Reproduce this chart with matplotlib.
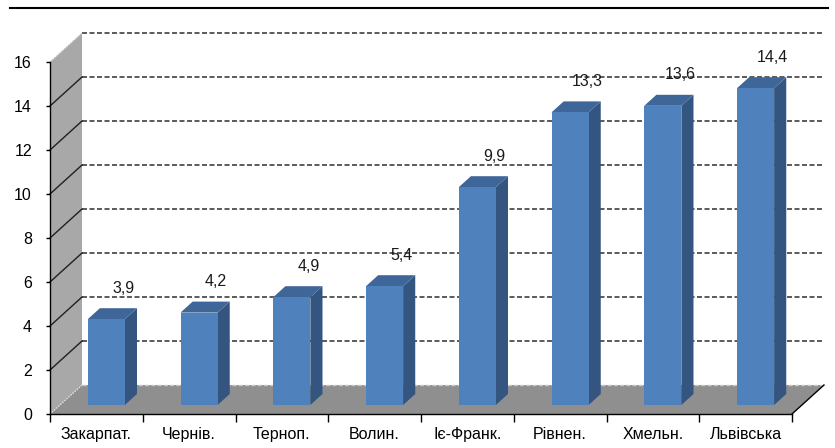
import matplotlib
matplotlib.use("Agg")
import matplotlib.pyplot as plt
from matplotlib.patches import Polygon
from matplotlib.lines import Line2D

plt.rcParams['font.family'] = ['Liberation Sans', 'DejaVu Sans']

categories = ["Закарпат.", "Чернів.", "Терноп.", "Волин.", "Іє-Франк.", "Рівнен.", "Хмельн.", "Львівська"]
values = [3.9, 4.2, 4.9, 5.4, 9.9, 13.3, 13.6, 14.4]
labels = ["3,9", "4,2", "4,9", "5,4", "9,9", "13,3", "13,6", "14,4"]
yticks = [0, 2, 4, 6, 8, 10, 12, 14, 16]

W, H = 835, 448
fig = plt.figure(figsize=(W / 100, H / 100), dpi=100)
fig.patch.set_facecolor("white")

# front plane of the 3-D box (pixels)
fx0, fx1, fy0, fy1 = 50, 792, 414, 62
ax = fig.add_axes([fx0 / W, (H - fy0) / H, (fx1 - fx0) / W, (fy0 - fy1) / H])
n = len(categories)
ymax = 16
ax.set_xlim(0, n)
ax.set_ylim(0, ymax)
ax.set_facecolor("none")

pxx = (fx1 - fx0) / n          # pixels per x unit
pxy = (fy0 - fy1) / ymax       # pixels per y unit
DX, DY = 32, 29                # full depth in pixels
ddx, ddy = DX / pxx, DY / pxy


def P(x, y, d):
    return (x + d * ddx, y + d * ddy)


# left side wall
ax.add_patch(Polygon([P(0, 0, 0), P(0, ymax, 0), P(0, ymax, 1), P(0, 0, 1)],
                     closed=True, facecolor="#a8a8a8", edgecolor="none", zorder=1, clip_on=False))
# floor
ax.add_patch(Polygon([P(0, 0, 0), P(n, 0, 0), P(n, 0, 1), P(0, 0, 1)],
                     closed=True, facecolor="#8f8f8f", edgecolor="none", zorder=1, clip_on=False))

# gridlines on back wall and side wall
for v in yticks:
    a, b = P(0, v, 1), P(n, v, 1)
    s = P(0, v, 0)
    if v == 0:
        ax.add_line(Line2D([a[0], b[0]], [a[1], b[1]], color="#c8c8c8", lw=1.0,
                           dashes=(3, 1.5), zorder=1.5, clip_on=False))
        ax.add_line(Line2D([s[0], a[0]], [s[1], a[1]], color="#e0e0e0", lw=1.0,
                           dashes=(1, 1), zorder=1.5, clip_on=False))
    elif v == ymax:
        ax.add_line(Line2D([a[0], b[0]], [a[1], b[1]], color="#404040", lw=1.2,
                           dashes=(3, 1.5), zorder=1.5, clip_on=False))
        ax.add_line(Line2D([s[0], a[0]], [s[1], a[1]], color="#d0d0d0", lw=1.0,
                           dashes=(1, 1), zorder=1.5, clip_on=False))
    else:
        ax.add_line(Line2D([a[0], b[0]], [a[1], b[1]], color="#404040", lw=1.2,
                           dashes=(3, 1.5), zorder=1.5, clip_on=False))
        ax.add_line(Line2D([s[0], a[0]], [s[1], a[1]], color="#202020", lw=1.0,
                           zorder=1.5, clip_on=False))

# right edge of floor
r0, r1 = P(n, 0, 0), P(n, 0, 1)
ax.add_line(Line2D([r0[0], r1[0]], [r0[1], r1[1]], color="black", lw=1.0, zorder=3, clip_on=False))

# bars
d0 = 9 / DY
d1 = d0 + 11 / DY
hw = 0.2
front_c, side_c, top_c = "#4f81bd", "#33557f", "#3e6699"
for i, v in enumerate(values):
    c = i + 0.5
    x0, x1 = c - hw, c + hw
    z = 2 + i * 0.01
    ax.add_patch(Polygon([P(x1, 0, d0), P(x1, 0, d1), P(x1, v, d1), P(x1, v, d0)],
                         closed=True, facecolor=side_c, edgecolor="none", zorder=z, clip_on=False))
    ax.add_patch(Polygon([P(x0, v, d0), P(x1, v, d0), P(x1, v, d1), P(x0, v, d1)],
                         closed=True, facecolor=top_c, edgecolor="none", zorder=z, clip_on=False))
    ax.add_patch(Polygon([P(x0, 0, d0), P(x1, 0, d0), P(x1, v, d0), P(x0, v, d0)],
                         closed=True, facecolor=front_c, edgecolor="none", zorder=z, clip_on=False))
    ax.annotate(labels[i], xy=P(c, v, d0), xytext=(17, 31), textcoords="offset pixels",
                ha="center", va="center", fontsize=11.5, color="#1a1a1a", zorder=4,
                annotation_clip=False)

# axes: spines & ticks
for sp in ["top", "right"]:
    ax.spines[sp].set_visible(False)
ax.spines["left"].set_color("black")
ax.spines["bottom"].set_color("black")
ax.spines["left"].set_linewidth(1.0)
ax.spines["bottom"].set_linewidth(1.0)
ax.spines["left"].set_zorder(3)
ax.spines["bottom"].set_zorder(3)

ax.set_yticks(yticks)
ax.set_yticklabels([str(t) for t in yticks])
ax.tick_params(axis="y", direction="out", length=3, width=1, pad=10, labelsize=11.5, colors="black")

ax.set_xticks(range(n + 1))
ax.set_xticklabels([""] * (n + 1))
ax.tick_params(axis="x", which="major", direction="out", length=6, width=1)
ax.set_xticks([i + 0.5 for i in range(n)], minor=True)
ax.set_xticklabels(categories, minor=True)
ax.tick_params(axis="x", which="minor", length=0, pad=9, labelsize=11.5)

# top rule
fig.add_artist(Line2D([10 / W, 828 / W], [(H - 8) / H, (H - 8) / H], color="black", lw=1.5))

fig.savefig("out.png", dpi=100, facecolor="white")
